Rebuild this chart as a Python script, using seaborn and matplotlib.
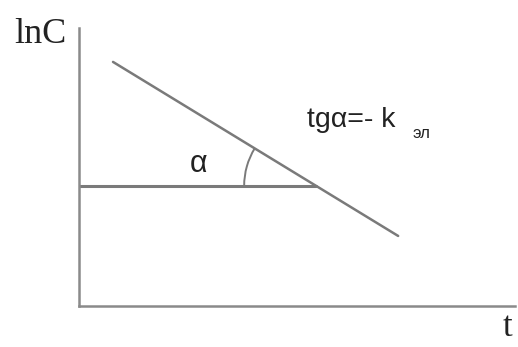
import numpy as np
import pandas as pd
import seaborn as sns
import matplotlib
matplotlib.use("Agg")
import matplotlib.pyplot as plt
from matplotlib.patches import Arc

# Elimination line: ln C falls linearly with time
t_vals = [0.78, 7.32]
lnc_vals = [8.78, 2.52]
# Reference level through the line (forms the angle alpha)
level_t = [0.0, 5.44]
level_lnc = [4.32, 4.32]

axis_label_y = "lnC"
axis_label_x = "t"
angle_label = "α"
slope_label = "tgα=- k"
slope_sub = "эл"

sns.set_theme(style="white")
plt.rcParams["font.family"] = ["Liberation Sans", "DejaVu Sans"]

line_color = "#7a7a7a"
text_color = "#222222"

fig = plt.figure(figsize=(5.18, 3.47), dpi=100)
ax = fig.add_axes([79 / 518, 41 / 347, 436 / 518, 278 / 347])
ax.set_xlim(0, 10)
ax.set_ylim(0, 10)

df_line = pd.DataFrame({"t": t_vals, "lnC": lnc_vals})
df_level = pd.DataFrame({"t": level_t, "lnC": level_lnc})
sns.lineplot(data=df_line, x="t", y="lnC", ax=ax, color=line_color, lw=1.8)
sns.lineplot(data=df_level, x="t", y="lnC", ax=ax, color=line_color, lw=2.2)

# Arc marking the angle between the two lines, centred at their intersection
slope = (lnc_vals[1] - lnc_vals[0]) / (t_vals[1] - t_vals[0])
t_cross = t_vals[0] + (level_lnc[0] - lnc_vals[0]) / slope
ang = np.degrees(np.arctan(-slope))
ax.add_patch(Arc((t_cross, level_lnc[0]), 2 * 72 / 43.6, 2 * 72 / 27.8,
                 theta1=180 - ang, theta2=180, color=line_color, lw=1.4))

ax.set_xlabel("")
ax.set_ylabel("")
ax.set_xticks([])
ax.set_yticks([])
for side in ("top", "right"):
    ax.spines[side].set_visible(False)
for side in ("left", "bottom"):
    ax.spines[side].set_color("#8a8a8a")
    ax.spines[side].set_linewidth(1.8)

ax.text(-0.89, 9.75, axis_label_y, fontsize=26, family="Liberation Serif",
        color=text_color, ha="center", va="center", clip_on=False)
ax.text(9.82, -0.79, axis_label_x, fontsize=25, family="Liberation Serif",
        color=text_color, ha="center", va="center", clip_on=False)
ax.text(2.75, 5.11, angle_label, fontsize=22, color=text_color,
        ha="center", va="center")
ax.text(5.23, 6.44, slope_label, fontsize=20.5, color=text_color,
        ha="left", va="baseline")
ax.text(7.66, 6.22, slope_sub, fontsize=12, color=text_color,
        ha="left", va="center")

fig.savefig("out.png", dpi=100)
